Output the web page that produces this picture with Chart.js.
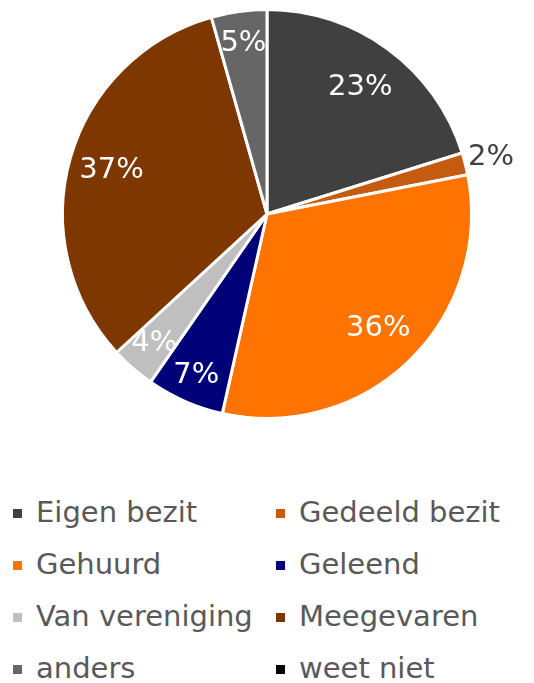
<!DOCTYPE html>
<html>
<head>
<meta charset="utf-8">
<script src="https://cdn.jsdelivr.net/npm/chart.js@4"></script>
<style>
  body { margin: 0; background: #fff; width: 534px; height: 683px; overflow: hidden; }
  #wrap { position: absolute; left: 0; top: 0; width: 534px; height: 428px; }
  #legend { position: absolute; left: 0; top: 486px; width: 534px; font-family: "DejaVu Sans", sans-serif; font-size: 29px; color: #595959; }
  .item { position: absolute; white-space: nowrap; height: 52px; line-height: 52px; }
  .box { display: inline-block; width: 9px; height: 9px; margin-right: 14px; vertical-align: middle; position: relative; top: -1px; }
</style>
</head>
<body>
<div id="wrap"><canvas id="pie"></canvas></div>
<div id="legend"></div>
<script>
const categories = ["Eigen bezit", "Gedeeld bezit", "Gehuurd", "Geleend", "Van vereniging", "Meegevaren", "anders", "weet niet"];
const values = [23, 2, 36, 7, 4, 37, 5, 0];
const colors = ["#404040", "#C55A11", "#FF7300", "#000078", "#BFBFBF", "#7F3700", "#666666", "#000000"];
const labelColors = ["#fff", "#404040", "#fff", "#fff", "#fff", "#fff", "#fff", "#fff"];
// how far out each label sits, as a share of the radius
const labelRadius = [0.77, 1.13, 0.78, 0.86, 0.84, 0.79, 0.84, 0.8];

const sliceLabels = {
  id: "sliceLabels",
  afterDatasetsDraw(chart) {
    const ctx = chart.ctx;
    const meta = chart.getDatasetMeta(0);
    ctx.save();
    ctx.font = '29px "DejaVu Sans", sans-serif';
    ctx.textAlign = "center";
    ctx.textBaseline = "middle";
    meta.data.forEach((arc, i) => {
      if (!values[i]) return;
      const mid = (arc.startAngle + arc.endAngle) / 2;
      const r = arc.outerRadius * labelRadius[i];
      ctx.fillStyle = labelColors[i];
      ctx.fillText(values[i] + "%", arc.x + Math.cos(mid) * r, arc.y + Math.sin(mid) * r);
    });
    ctx.restore();
  },
};

const chart = new Chart(document.getElementById("pie"), {
  type: "pie",
  data: {
    labels: categories,
    datasets: [{
      data: values,
      backgroundColor: colors,
      borderColor: "#ffffff",
      borderWidth: 3,
    }],
  },
  options: {
    responsive: true,
    maintainAspectRatio: false,
    animation: false,
    layout: { padding: { top: 8, bottom: 8 } },
    plugins: {
      legend: { display: false },
      tooltip: { enabled: false },
    },
  },
  plugins: [sliceLabels],
});

// two-column legend built from the same arrays
const legend = document.getElementById("legend");
categories.forEach((name, i) => {
  const el = document.createElement("div");
  el.className = "item";
  el.style.left = (i % 2 === 0 ? 13 : 276) + "px";
  el.style.top = (Math.floor(i / 2) * 52) + "px";
  el.innerHTML = '<span class="box" style="background:' + colors[i] + '"></span>' + name;
  legend.appendChild(el);
});
</script>
</body>
</html>
